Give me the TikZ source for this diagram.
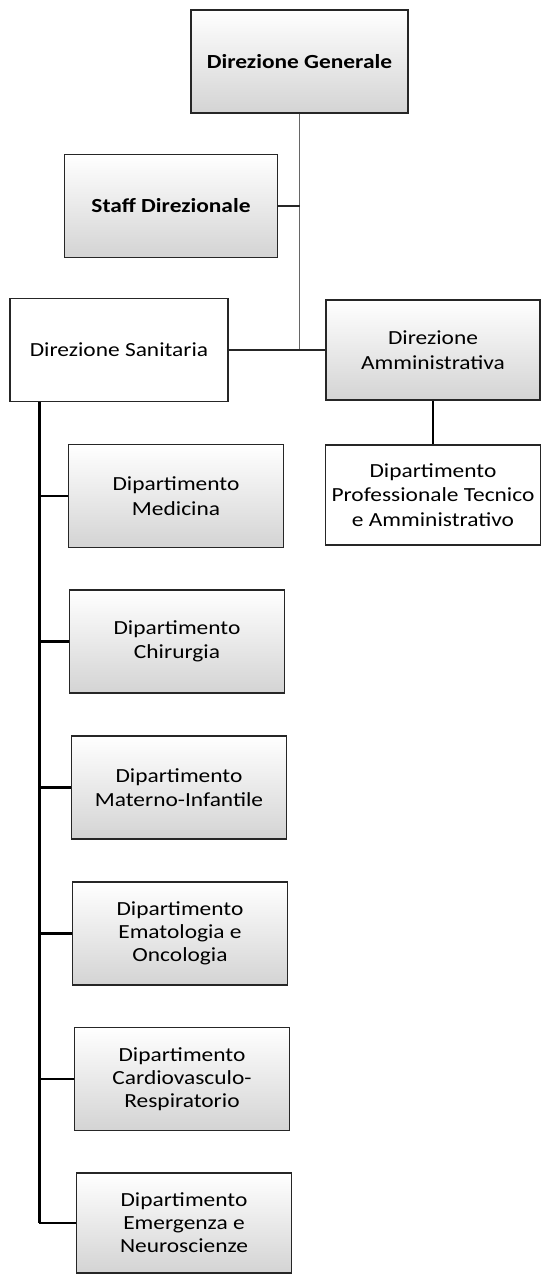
\documentclass[tikz,border=0pt]{standalone}
\usepackage{fontspec}
\setmainfont{Carlito}[FakeStretch=1.17]
\tikzset{
  box/.style={draw=black!85, line width=1.1pt, align=center, inner sep=2pt,
    minimum width=215pt, minimum height=103pt, top color=white, bottom color=black!17,
    font=\fontsize{20}{24.5}\selectfont},
  plainbox/.style={box, top color=white, bottom color=white},
  tightbox/.style={box, font=\fontsize{20}{23}\selectfont},
  headbox/.style={box, font=\fontsize{20}{24.5}\selectfont\bfseries},
  link/.style={draw=black!85, line width=1.4pt},
  spine/.style={draw=black, line width=2.8pt},
}
\begin{document}
\begin{tikzpicture}[x=1pt,y=-1pt]
\useasboundingbox (0,0) rectangle (545,1275);

\node[headbox, minimum width=217pt] (dg) at (299.5,61.5) {Direzione Generale};
\node[headbox, minimum width=213pt] (staff) at (171,206) {Staff Direzionale};
\node[plainbox, minimum width=218pt] (san) at (119,350) {Direzione Sanitaria};
\node[box, line width=2.6pt, minimum width=214pt, minimum height=100pt] (amm) at (433,350) {Direzione\\Amministrativa};
\node[plainbox, minimum height=100pt] (prof) at (433,495) {Dipartimento\\Professionale Tecnico\\e Amministrativo};

\node[box] (med) at (176,496) {Dipartimento\\Medicina};
\node[box] (chir) at (177,641.5) {Dipartimento\\Chirurgia};
\node[box] (mat) at (179,787.5) {Dipartimento\\Materno-Infantile};
\node[tightbox] (emat) at (180,933.5) {Dipartimento\\Ematologia e\\Oncologia};
\node[tightbox] (cardio) at (182,1079) {Dipartimento\\Cardiovasculo-\\Respiratorio};
\node[tightbox, minimum height=100pt] (emerg) at (184,1223) {Dipartimento\\Emergenza e\\Neuroscienze};

% direzione
\draw[link, draw=black!60] (dg.south) -- (dg.south |- san.east);
\draw[link, line width=2pt] (staff.east) -- (staff.east -| dg.south);
\draw[link, line width=2pt] (san.east) -- (amm.west);
\draw[spine] (amm.south) -- (prof.north);

% dipartimenti sanitari
\coordinate (root) at ([xshift=30pt]san.south west);
\draw[spine] (root) -- (root |- emerg.west);
\draw[spine] (root |- med.west) -- (med.west);
\draw[spine] (root |- chir.west) -- (chir.west);
\draw[spine] (root |- mat.west) -- (mat.west);
\draw[spine] (root |- emat.west) -- (emat.west);
\draw[spine] (root |- cardio.west) -- (cardio.west);
\draw[spine] (root |- emerg.west) -- (emerg.west);
\end{tikzpicture}
\end{document}
